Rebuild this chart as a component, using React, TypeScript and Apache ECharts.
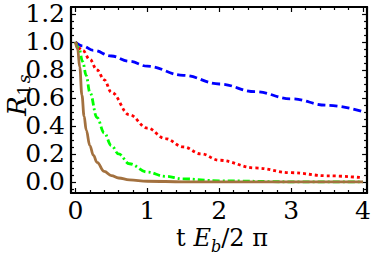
import React, { useEffect, useRef } from "react";
import * as echarts from "echarts";

const blueX = [0, 0.1, 0.25, 0.5, 0.75, 1, 1.5, 2, 2.5, 3, 3.5, 4];
const blueY = [1.0, 0.972, 0.94, 0.9, 0.862, 0.827, 0.762, 0.7, 0.645, 0.594, 0.548, 0.503];

const redX = [0, 0.1, 0.2, 0.3, 0.4, 0.5, 0.75, 1, 1.25, 1.5, 1.75, 2, 2.5, 3, 3.5, 4];
const redY = [1.0, 0.94, 0.875, 0.8, 0.73, 0.64, 0.48, 0.385, 0.31, 0.25, 0.2, 0.155, 0.1, 0.066, 0.044, 0.03];

const greenX = [0, 0.05, 0.1, 0.15, 0.2, 0.3, 0.4, 0.5, 0.6, 0.75, 1, 1.25, 1.5, 2, 3, 4];
const greenY = [1.0, 0.95, 0.86, 0.76, 0.64, 0.46, 0.35, 0.26, 0.2, 0.13, 0.07, 0.04, 0.022, 0.008, 0.001, 0];

const brownX = [0, 0.03, 0.06, 0.09, 0.12, 0.15, 0.2, 0.25, 0.3, 0.4, 0.5, 0.6, 0.75, 1, 1.5, 2, 4];
const brownY = [1.0, 0.95, 0.82, 0.62, 0.47, 0.37, 0.26, 0.19, 0.14, 0.075, 0.045, 0.028, 0.015, 0.005, 0.001, 0, 0];

const xTicks = [0, 1, 2, 3, 4];
const xMinorTicks = [0.2, 0.4, 0.6, 0.8, 1.2, 1.4, 1.6, 1.8, 2.2, 2.4, 2.6, 2.8, 3.2, 3.4, 3.6, 3.8];
const yTicks = [0, 0.2, 0.4, 0.6, 0.8, 1.0, 1.2];
const yMinorTicks = [-0.05, 0.05, 0.1, 0.15, 0.25, 0.3, 0.35, 0.45, 0.5, 0.55, 0.65, 0.7, 0.75, 0.85, 0.9, 0.95, 1.05, 1.1, 1.15];

// frame extent in data units
const xRange = [-0.062, 4.056];
const yRange = [-0.079, 1.25];

const FONT = "DejaVu Serif";

function pairs(xs: number[], ys: number[]) {
  return xs.map((x, i) => [x, ys[i]]);
}

export default function App() {
  const ref = useRef<HTMLDivElement>(null);
  useEffect(() => {
    if (!ref.current) return;
    const chart = echarts.init(ref.current, undefined, { renderer: "svg" });
    const frameLine = { show: true, onZero: false, lineStyle: { color: "#000", width: 2.2 } };
    const hiddenLine = { show: false, onZero: false };
    const major = (vals: number[]) => ({
      show: true,
      inside: true,
      length: 5,
      customValues: vals,
      lineStyle: { color: "#000", width: 1.2 },
    });
    const minor = (vals: number[]) => ({
      show: true,
      inside: true,
      length: 3,
      customValues: vals,
      lineStyle: { color: "#000", width: 1.2 },
    });
    const xAx = (pos: string, ticks: any, label: any, line: boolean) => ({
      type: "value",
      position: pos,
      min: xRange[0],
      max: xRange[1],
      axisLine: line ? frameLine : hiddenLine,
      axisTick: ticks,
      axisLabel: label,
      splitLine: { show: false },
    });
    const yAx = (pos: string, ticks: any, label: any, line: boolean) => ({
      type: "value",
      position: pos,
      min: yRange[0],
      max: yRange[1],
      axisLine: line ? frameLine : hiddenLine,
      axisTick: ticks,
      axisLabel: label,
      splitLine: { show: false },
    });
    const noLabel = { show: false };
    const xLabel = {
      show: true,
      customValues: xTicks,
      margin: 5,
      color: "#000",
      fontFamily: FONT,
      fontSize: 25,
      formatter: (v: number) => String(Math.round(v)),
    };
    const yLabel = {
      show: true,
      customValues: yTicks,
      margin: 6,
      color: "#000",
      fontFamily: FONT,
      fontSize: 25,
      formatter: (v: number) => v.toFixed(1),
    };
    const lineW = 2.8;
    chart.setOption({
      animation: false,
      grid: { left: 71, right: 2, top: 7, bottom: 66, containLabel: false },
      xAxis: [
        xAx("bottom", major(xTicks), xLabel, true),
        xAx("top", major(xTicks), noLabel, true),
        xAx("bottom", minor(xMinorTicks), noLabel, false),
        xAx("top", minor(xMinorTicks), noLabel, false),
      ],
      yAxis: [
        yAx("left", major(yTicks), yLabel, true),
        yAx("right", major(yTicks), noLabel, true),
        yAx("left", minor(yMinorTicks), noLabel, false),
        yAx("right", minor(yMinorTicks), noLabel, false),
      ],
      series: [
        {
          type: "line",
          data: pairs(blueX, blueY),
          showSymbol: false,
          smooth: 0.4,
          smoothMonotone: "x",
          lineStyle: { color: "#0000ff", width: lineW, type: [8, 4] },
        },
        {
          type: "line",
          data: pairs(redX, redY),
          showSymbol: false,
          smooth: 0.4,
          smoothMonotone: "x",
          lineStyle: { color: "#ff0000", width: lineW, type: [3, 3] },
        },
        {
          type: "line",
          data: pairs(greenX, greenY),
          showSymbol: false,
          smooth: 0.4,
          smoothMonotone: "x",
          lineStyle: { color: "#00ff00", width: lineW, type: [7, 3, 2, 3] },
        },
        {
          type: "line",
          data: pairs(brownX, brownY),
          showSymbol: false,
          smooth: 0.4,
          smoothMonotone: "x",
          lineStyle: { color: "#a3713f", width: lineW },
        },
      ],
      graphic: [
        {
          type: "text",
          x: 222,
          y: 240,
          style: {
            text: "{n|t }{i|E}{s|b}{n|/2 π}",
            align: "center",
            verticalAlign: "middle",
            rich: {
              n: { fontFamily: FONT, fontSize: 24, lineHeight: 28, verticalAlign: "top", fill: "#000" },
              i: { fontFamily: FONT, fontSize: 24, fontStyle: "italic", lineHeight: 28, verticalAlign: "top", fill: "#000" },
              s: { fontFamily: FONT, fontSize: 16, fontStyle: "italic", lineHeight: 16, verticalAlign: "bottom", fill: "#000" },
            },
          },
        },
        {
          type: "group",
          x: 17,
          y: 97,
          rotation: Math.PI / 2,
          children: [
            {
              type: "text",
              x: -9,
              y: 0,
              style: {
                text: "R",
                fontFamily: FONT,
                fontSize: 26,
                fontStyle: "italic",
                align: "center",
                verticalAlign: "middle",
                fill: "#000",
              },
            },
            {
              type: "text",
              x: 7,
              y: 7,
              style: {
                text: "1",
                fontFamily: FONT,
                fontSize: 17,
                align: "center",
                verticalAlign: "middle",
                fill: "#000",
              },
            },
            {
              type: "text",
              x: 18,
              y: 7,
              style: {
                text: "s",
                fontFamily: FONT,
                fontSize: 17,
                fontStyle: "italic",
                align: "center",
                verticalAlign: "middle",
                fill: "#000",
              },
            },
          ],
        },
      ],
    });
    return () => chart.dispose();
  }, []);
  return (
    <div
      ref={ref}
      style={{ position: "fixed", left: 0, top: 0, width: 374, height: 259, background: "#fff" }}
    />
  );
}
